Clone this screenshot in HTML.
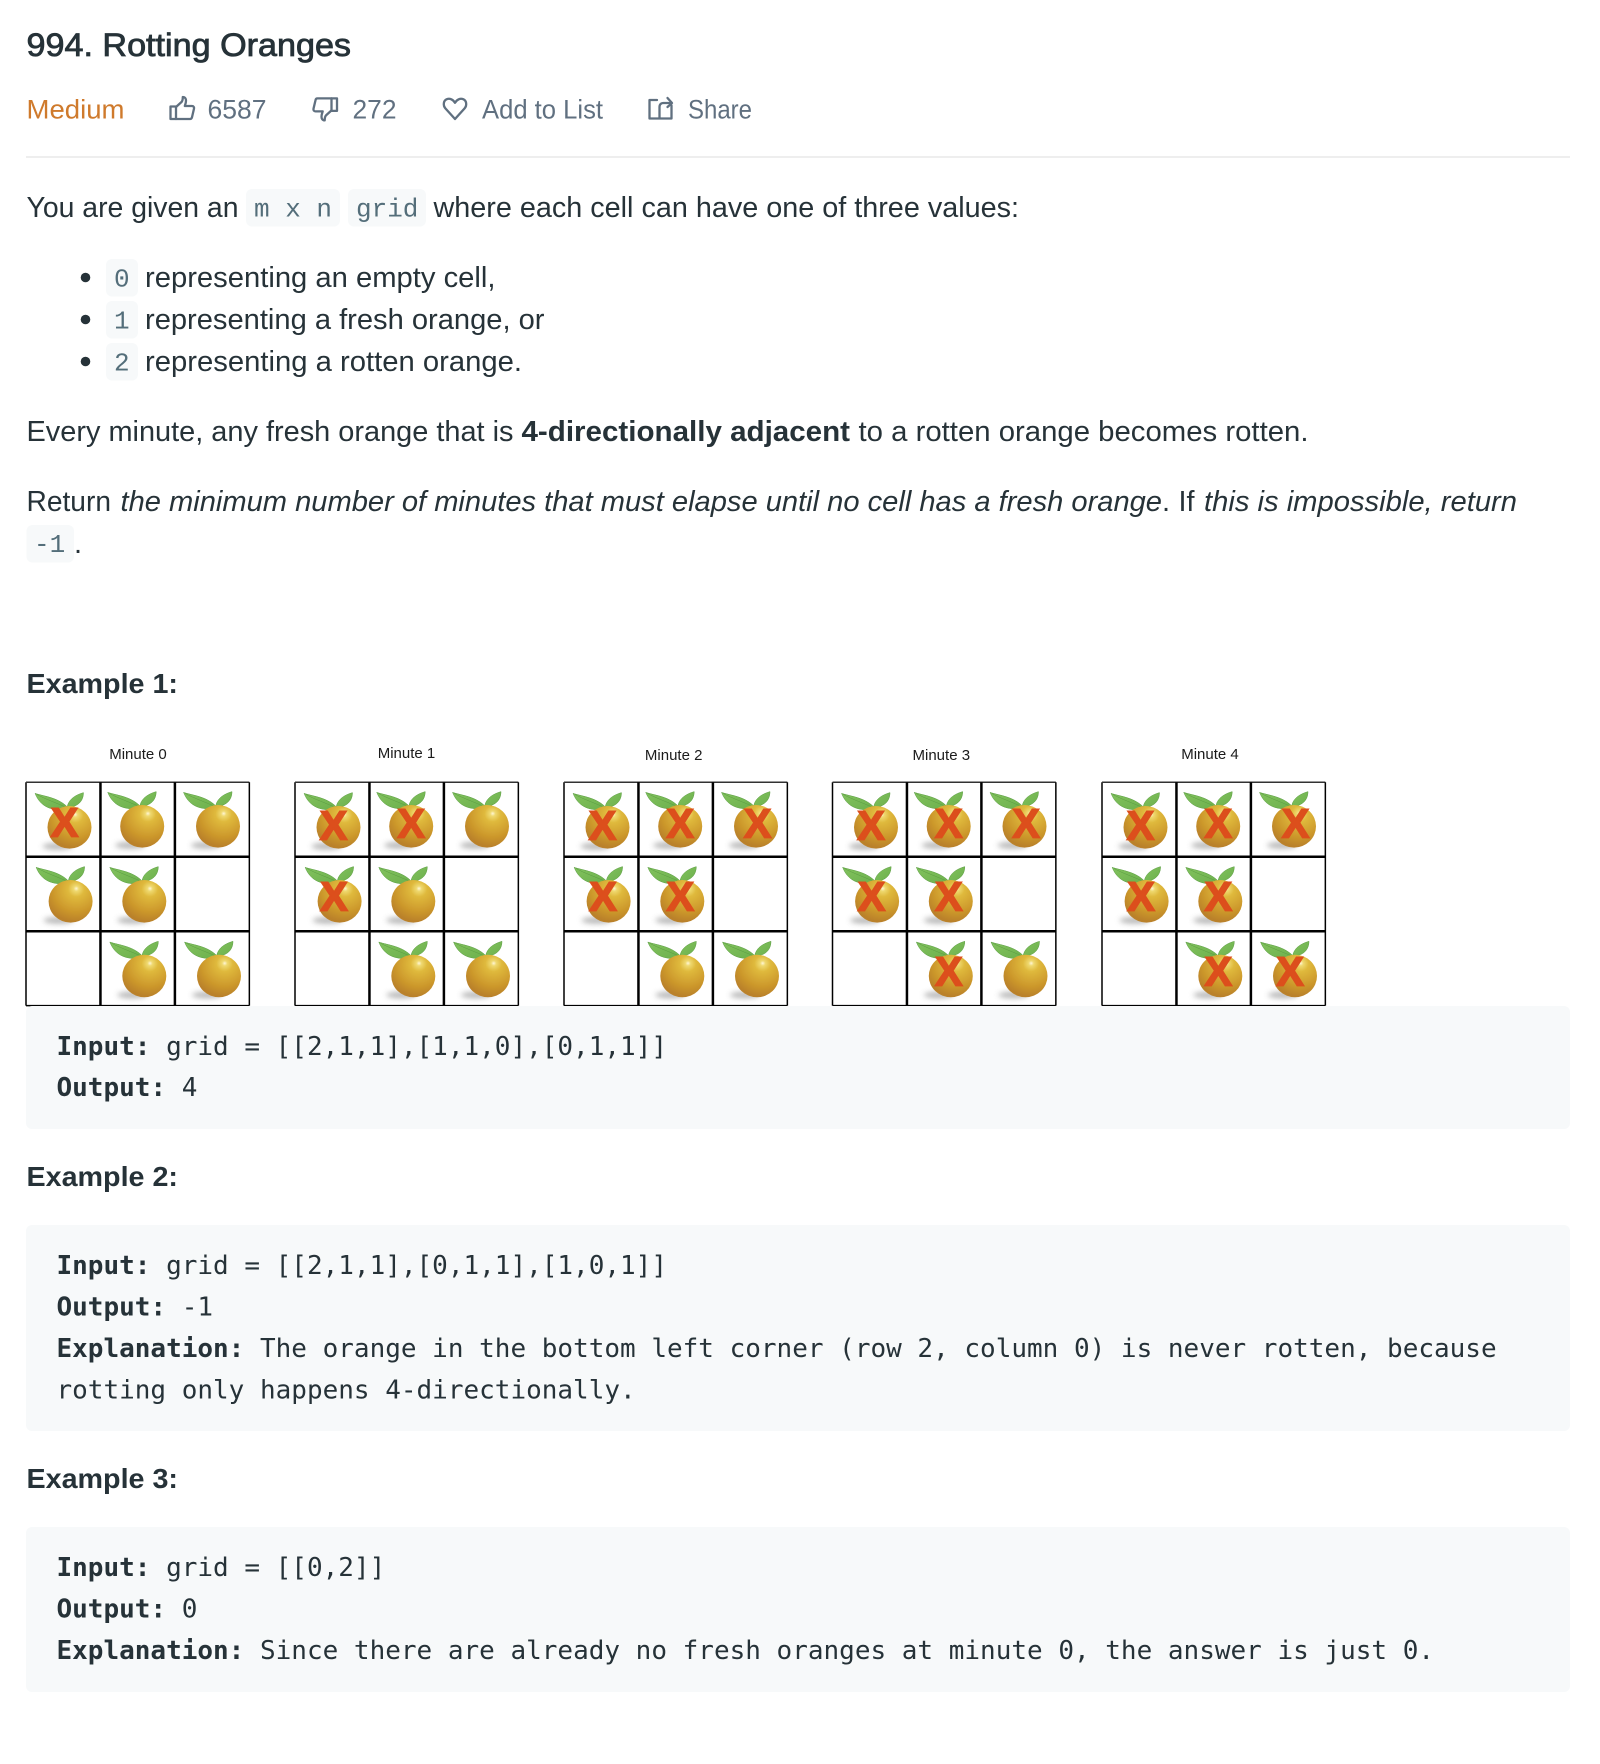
<!DOCTYPE html>
<html lang="en">
<head>
<meta charset="utf-8">
<title>994. Rotting Oranges</title>
<style>
html,body{margin:0;padding:0;background:#fff;}
svg{display:block;}
.s{font-family:"Liberation Sans",sans-serif;font-size:29px;fill:#263238;}
.m{font-family:"DejaVu Sans Mono",monospace;font-size:26px;fill:#263238;}
.b{font-weight:700;}
.c{font-family:"Liberation Mono",monospace;font-size:26px;fill:#546e7a;}
.h{font-family:"Liberation Sans",sans-serif;font-size:28px;font-weight:700;fill:#263238;}
.t{font-family:"Liberation Sans",sans-serif;font-size:26.5px;fill:#607080;}
.i{fill:none;stroke:#607080;stroke-width:2.3;stroke-linejoin:round;stroke-linecap:round;}
.l{font-family:"Liberation Sans",sans-serif;font-size:15px;fill:#1a1a1a;}
</style>
</head>
<body>
<svg id="page" xmlns="http://www.w3.org/2000/svg" width="1600" height="1764" viewBox="0 0 1600 1764">
<defs>
<radialGradient id="orangeBody" cx="0.62" cy="0.24" r="0.85" fx="0.63" fy="0.2">
<stop offset="0" stop-color="#fff6d6"/>
<stop offset="0.07" stop-color="#efd970"/>
<stop offset="0.22" stop-color="#dfb93c"/>
<stop offset="0.6" stop-color="#cd992c"/>
<stop offset="0.88" stop-color="#b98029"/>
<stop offset="1" stop-color="#c18a38"/>
</radialGradient>
<linearGradient id="leafFill" x1="0" y1="0" x2="1" y2="1">
<stop offset="0" stop-color="#82c25e"/>
<stop offset="1" stop-color="#6cb04c"/>
</linearGradient>
<filter id="shadowBlur" x="-40%" y="-150%" width="180%" height="400%"><feGaussianBlur stdDeviation="2.600"/></filter>
<filter id="soft" x="-5%" y="-5%" width="110%" height="110%"><feGaussianBlur stdDeviation="0.35"/></filter>
</defs>

<rect width="1600" height="1764" fill="#fff"/>

<text class="s" x="26.500" y="56" style="font-size:32px;stroke:#263238;stroke-width:0.8px" textLength="324.500" lengthAdjust="spacingAndGlyphs">994. Rotting Oranges</text>

<text class="t" x="26.500" y="118.500" style="fill:#cf7a2c" textLength="98" lengthAdjust="spacingAndGlyphs">Medium</text>

<g class="i">
<path d="M170.500,106.500h5.500v12.500h-5.500z"/>
<path d="M176,107l5.500,-5c1,-1 1.300,-3 1.300,-5c2.200,0 3.200,1.700 3.200,3.700c0,2 -.7,3.800 -1.200,5.300h7.200c1.500,0 2.300,1.200 2,2.600l-2,8.600c-.2,1.100 -1,1.800 -2,1.800h-14"/>
</g>
<text class="t" x="207.500" y="118.500" textLength="59" lengthAdjust="spacingAndGlyphs">6587</text>

<g class="i" transform="rotate(180 325.500 109.700)">
<path d="M314,108.500h5.500v12.500h-5.500z"/>
<path d="M319.500,109l5.500,-5c1,-1 1.300,-3 1.300,-5c2.200,0 3.200,1.700 3.200,3.700c0,2 -.7,3.800 -1.200,5.300h7.200c1.500,0 2.300,1.200 2,2.600l-2,8.600c-.2,1.100 -1,1.800 -2,1.800h-14"/>
</g>
<text class="t" x="352.500" y="118.500" textLength="44" lengthAdjust="spacingAndGlyphs">272</text>

<path class="i" d="M455,119l-9.500,-10.500c-2.800,-3.200 -2,-8 1.300,-9.300c3,-1.200 6.200,.3 8.200,3.600c2,-3.300 5.200,-4.800 8.200,-3.600c3.300,1.300 4.100,6.100 1.300,9.300z"/>
<text class="t" x="482" y="118.500" textLength="121" lengthAdjust="spacingAndGlyphs">Add to List</text>

<g class="i">
<path d="M657,100h-7.500v18.500h22v-13"/>
<path d="M659.500,118v-11c0,-2.500 1.500,-4 4,-4h8"/>
<path d="M667.500,98l4.500,5l-4.500,4"/>
</g>
<text class="t" x="688" y="118.500" textLength="64" lengthAdjust="spacingAndGlyphs">Share</text>

<rect x="26" y="156" width="1544" height="2" fill="#eeeeee"/>

<text class="s" x="26.500" y="217" textLength="212" lengthAdjust="spacingAndGlyphs">You are given an</text>
<rect x="246" y="189" width="94" height="37.500" rx="6" fill="#f7f9fa"/>
<text class="c" x="254" y="216.500">m x n</text>
<rect x="348" y="189" width="78" height="37.500" rx="6" fill="#f7f9fa"/>
<text class="c" x="356" y="216.500">grid</text>
<text class="s" x="433.500" y="217" textLength="585.500" lengthAdjust="spacingAndGlyphs">where each cell can have one of three values:</text>

<circle cx="85.500" cy="277.500" r="4.800" fill="#263238"/>
<rect x="106" y="259" width="32" height="37.500" rx="6" fill="#f7f9fa"/>
<text class="c" x="114" y="286.500">0</text>
<text class="s" x="145" y="287" textLength="350.500" lengthAdjust="spacingAndGlyphs">representing an empty cell,</text>

<circle cx="85.500" cy="319.500" r="4.800" fill="#263238"/>
<rect x="106" y="301" width="32" height="37.500" rx="6" fill="#f7f9fa"/>
<text class="c" x="114" y="328.500">1</text>
<text class="s" x="145" y="329" textLength="399.500" lengthAdjust="spacingAndGlyphs">representing a fresh orange, or</text>

<circle cx="85.500" cy="361.500" r="4.800" fill="#263238"/>
<rect x="106" y="343" width="32" height="37.500" rx="6" fill="#f7f9fa"/>
<text class="c" x="114" y="370.500">2</text>
<text class="s" x="145" y="371" textLength="377" lengthAdjust="spacingAndGlyphs">representing a rotten orange.</text>

<text class="s" x="26.500" y="441" textLength="487" lengthAdjust="spacingAndGlyphs">Every minute, any fresh orange that is</text>
<text class="s" x="521.500" y="441" style="font-weight:700" textLength="328.500" lengthAdjust="spacingAndGlyphs">4-directionally adjacent</text>
<text class="s" x="858.500" y="441" textLength="450" lengthAdjust="spacingAndGlyphs">to a rotten orange becomes rotten.</text>

<text class="s" x="26.500" y="511" textLength="84.500" lengthAdjust="spacingAndGlyphs">Return</text>
<text class="s" x="120.500" y="511" style="font-style:italic" textLength="1041.500" lengthAdjust="spacingAndGlyphs">the minimum number of minutes that must elapse until no cell has a fresh orange</text>
<text class="s" x="1162" y="511">.</text>
<text class="s" x="1178.500" y="511" textLength="16" lengthAdjust="spacingAndGlyphs">If</text>
<text class="s" x="1204" y="511" style="font-style:italic" textLength="313" lengthAdjust="spacingAndGlyphs">this is impossible, return</text>
<rect x="26.500" y="525" width="47.500" height="37.500" rx="6" fill="#f7f9fa"/>
<text class="c" x="34" y="552">-1</text>
<text class="s" x="74" y="553">.</text>

<text class="h" x="26.500" y="693" textLength="151.500" lengthAdjust="spacingAndGlyphs">Example 1:</text>

<g id="gridLayer"></g>

<rect x="26" y="1006" width="1544" height="123" rx="6" fill="#f7f9fa"/>
<text class="m" x="56.500" y="1055"><tspan font-weight="700">Input:</tspan> grid = [[2,1,1],[1,1,0],[0,1,1]]</text>
<text class="m" x="56.500" y="1096"><tspan font-weight="700">Output:</tspan> 4</text>

<text class="h" x="26.500" y="1186" textLength="151.500" lengthAdjust="spacingAndGlyphs">Example 2:</text>
<rect x="26" y="1225" width="1544" height="206" rx="6" fill="#f7f9fa"/>
<text class="m" x="56.500" y="1274"><tspan font-weight="700">Input:</tspan> grid = [[2,1,1],[0,1,1],[1,0,1]]</text>
<text class="m" x="56.500" y="1315.500"><tspan font-weight="700">Output:</tspan> -1</text>
<text class="m" x="56.500" y="1357"><tspan font-weight="700">Explanation:</tspan> The orange in the bottom left corner (row 2, column 0) is never rotten, because</text>
<text class="m" x="56.500" y="1398.500">rotting only happens 4-directionally.</text>

<text class="h" x="26.500" y="1488" textLength="151.500" lengthAdjust="spacingAndGlyphs">Example 3:</text>
<rect x="26" y="1527" width="1544" height="165" rx="6" fill="#f7f9fa"/>
<text class="m" x="56.500" y="1576"><tspan font-weight="700">Input:</tspan> grid = [[0,2]]</text>
<text class="m" x="56.500" y="1617.500"><tspan font-weight="700">Output:</tspan> 0</text>
<text class="m" x="56.500" y="1659"><tspan font-weight="700">Explanation:</tspan> Since there are already no fresh oranges at minute 0, the answer is just 0.</text>
</svg>

<script>
// Cell states per minute: 0 = empty, 1 = fresh orange, 2 = rotten orange
const minuteLabels = ['Minute 0', 'Minute 1', 'Minute 2', 'Minute 3', 'Minute 4'];
const minute0 = [2, 1, 1, 1, 1, 0, 0, 1, 1];
const minute1 = [2, 2, 1, 2, 1, 0, 0, 1, 1];
const minute2 = [2, 2, 2, 2, 2, 0, 0, 1, 1];
const minute3 = [2, 2, 2, 2, 2, 0, 0, 2, 1];
const minute4 = [2, 2, 2, 2, 2, 0, 0, 2, 2];
const minuteGrids = [minute0, minute1, minute2, minute3, minute4];

const NS = 'http://www.w3.org/2000/svg';
const layer = document.getElementById('gridLayer');
function make(tag, attrs, parent) {
  const el = document.createElementNS(NS, tag);
  for (const k in attrs) el.setAttribute(k, attrs[k]);
  parent.appendChild(el);
  return el;
}

const GRID_TOP = 782.3, STEP = 74.45;
const gridLeft = i => [26, 295, 564, 832.500, 1102][i];
const labelX = i => gridLeft(i) + [112, 111.500, 109.700, 108.800, 108][i];
const labelY = i => [759, 758, 760, 760, 759][i];
// Small per-cell placement differences of the artwork inside each square
const artX = [43.5, 116.2, 192, 44.6, 118.3, 193, 44, 118.3, 193];
const artY = [45, 44, 44, 119, 119, 119, 193.7, 193.7, 193.7];
const crossX = [-5, 0, 1.6, -5.5, -2, 0, 0, -2, -4.8];
const crossY = [-3, -4, -4, -6, -6, 0, 0, -5.7, -5.7];

function drawOrange(parent, cx, cy, state, idx, gi) {
  const g = make('g', {transform: 'translate(' + cx + ' ' + cy + ')'}, parent);
  
  
  make('ellipse', {cx: -12, cy: 19, rx: 15, ry: 3.400, fill: '#8a8a8a', opacity: 0.6, filter: 'url(#shadowBlur)'}, g);
  make('path', {d: 'M-34.5,-34C-26,-31 -10,-30 -.7,-18.700C-12,-16 -28,-17 -34.500,-34Z', fill: 'url(#leafFill)', stroke: '#5a9c42', 'stroke-width': 0.5}, g);
  make('path', {d: 'M-33,-33C-24,-28 -12,-24 -1,-19', fill: 'none', stroke: '#5a9c42', 'stroke-width': 0.5}, g);
  make('path', {d: 'M-2.400,-20C-1,-29 8,-33 14,-34.700C14,-26 8,-20 -2.400,-20Z', fill: 'url(#leafFill)', stroke: '#5a9c42', 'stroke-width': 0.5}, g);
  make('ellipse', {cx: 0, cy: 0, rx: 22, ry: 21.300, fill: 'url(#orangeBody)'}, g);
  if (state === 2) {
    const dx = crossX[idx], dy = crossY[idx] - (gi === 0 && idx === 0 ? 3 : 0);
    const t = make('text', {x: dx, y: dy + 15, 'text-anchor': 'middle', 'font-family': '"Liberation Sans", sans-serif', 'font-weight': 700, 'font-size': 41, fill: '#dc4f1c', stroke: '#dc4f1c', 'stroke-width': 1.700}, g);
    
    
    t.textContent = 'X';
  }
}

minuteGrids.forEach(function (cells, gi) {
  const x0 = gridLeft(gi);
  const grid = make('g', {filter: 'url(#soft)'}, layer);
  
  

  const label = make('text', {class: 'l', x: labelX(gi), y: labelY(gi), 'text-anchor': 'middle'}, grid);
  
  
  label.textContent = minuteLabels[gi];

  cells.forEach(function (state, idx) {
    if (state === 0) return;
    drawOrange(grid, x0 + artX[idx], GRID_TOP + artY[idx], state, idx, gi);
  });

  for (let k = 0; k <= 3; k++) {
    const outer = k === 0 || k === 3;
    const v = make('line', {x1: x0 + k * STEP, y1: GRID_TOP, x2: x0 + k * STEP, y2: GRID_TOP + 3 * STEP, stroke: '#000', 'stroke-width': outer ? 1.500 : 2.500}, grid);
    
    
    const h = make('line', {x1: x0, y1: GRID_TOP + k * STEP, x2: x0 + 3 * STEP, y2: GRID_TOP + k * STEP, stroke: k === 0 ? '#333' : '#000', 'stroke-width': outer ? 1.500 : 2.500}, grid);
    
    
  }
});
</script>
</body>
</html>
